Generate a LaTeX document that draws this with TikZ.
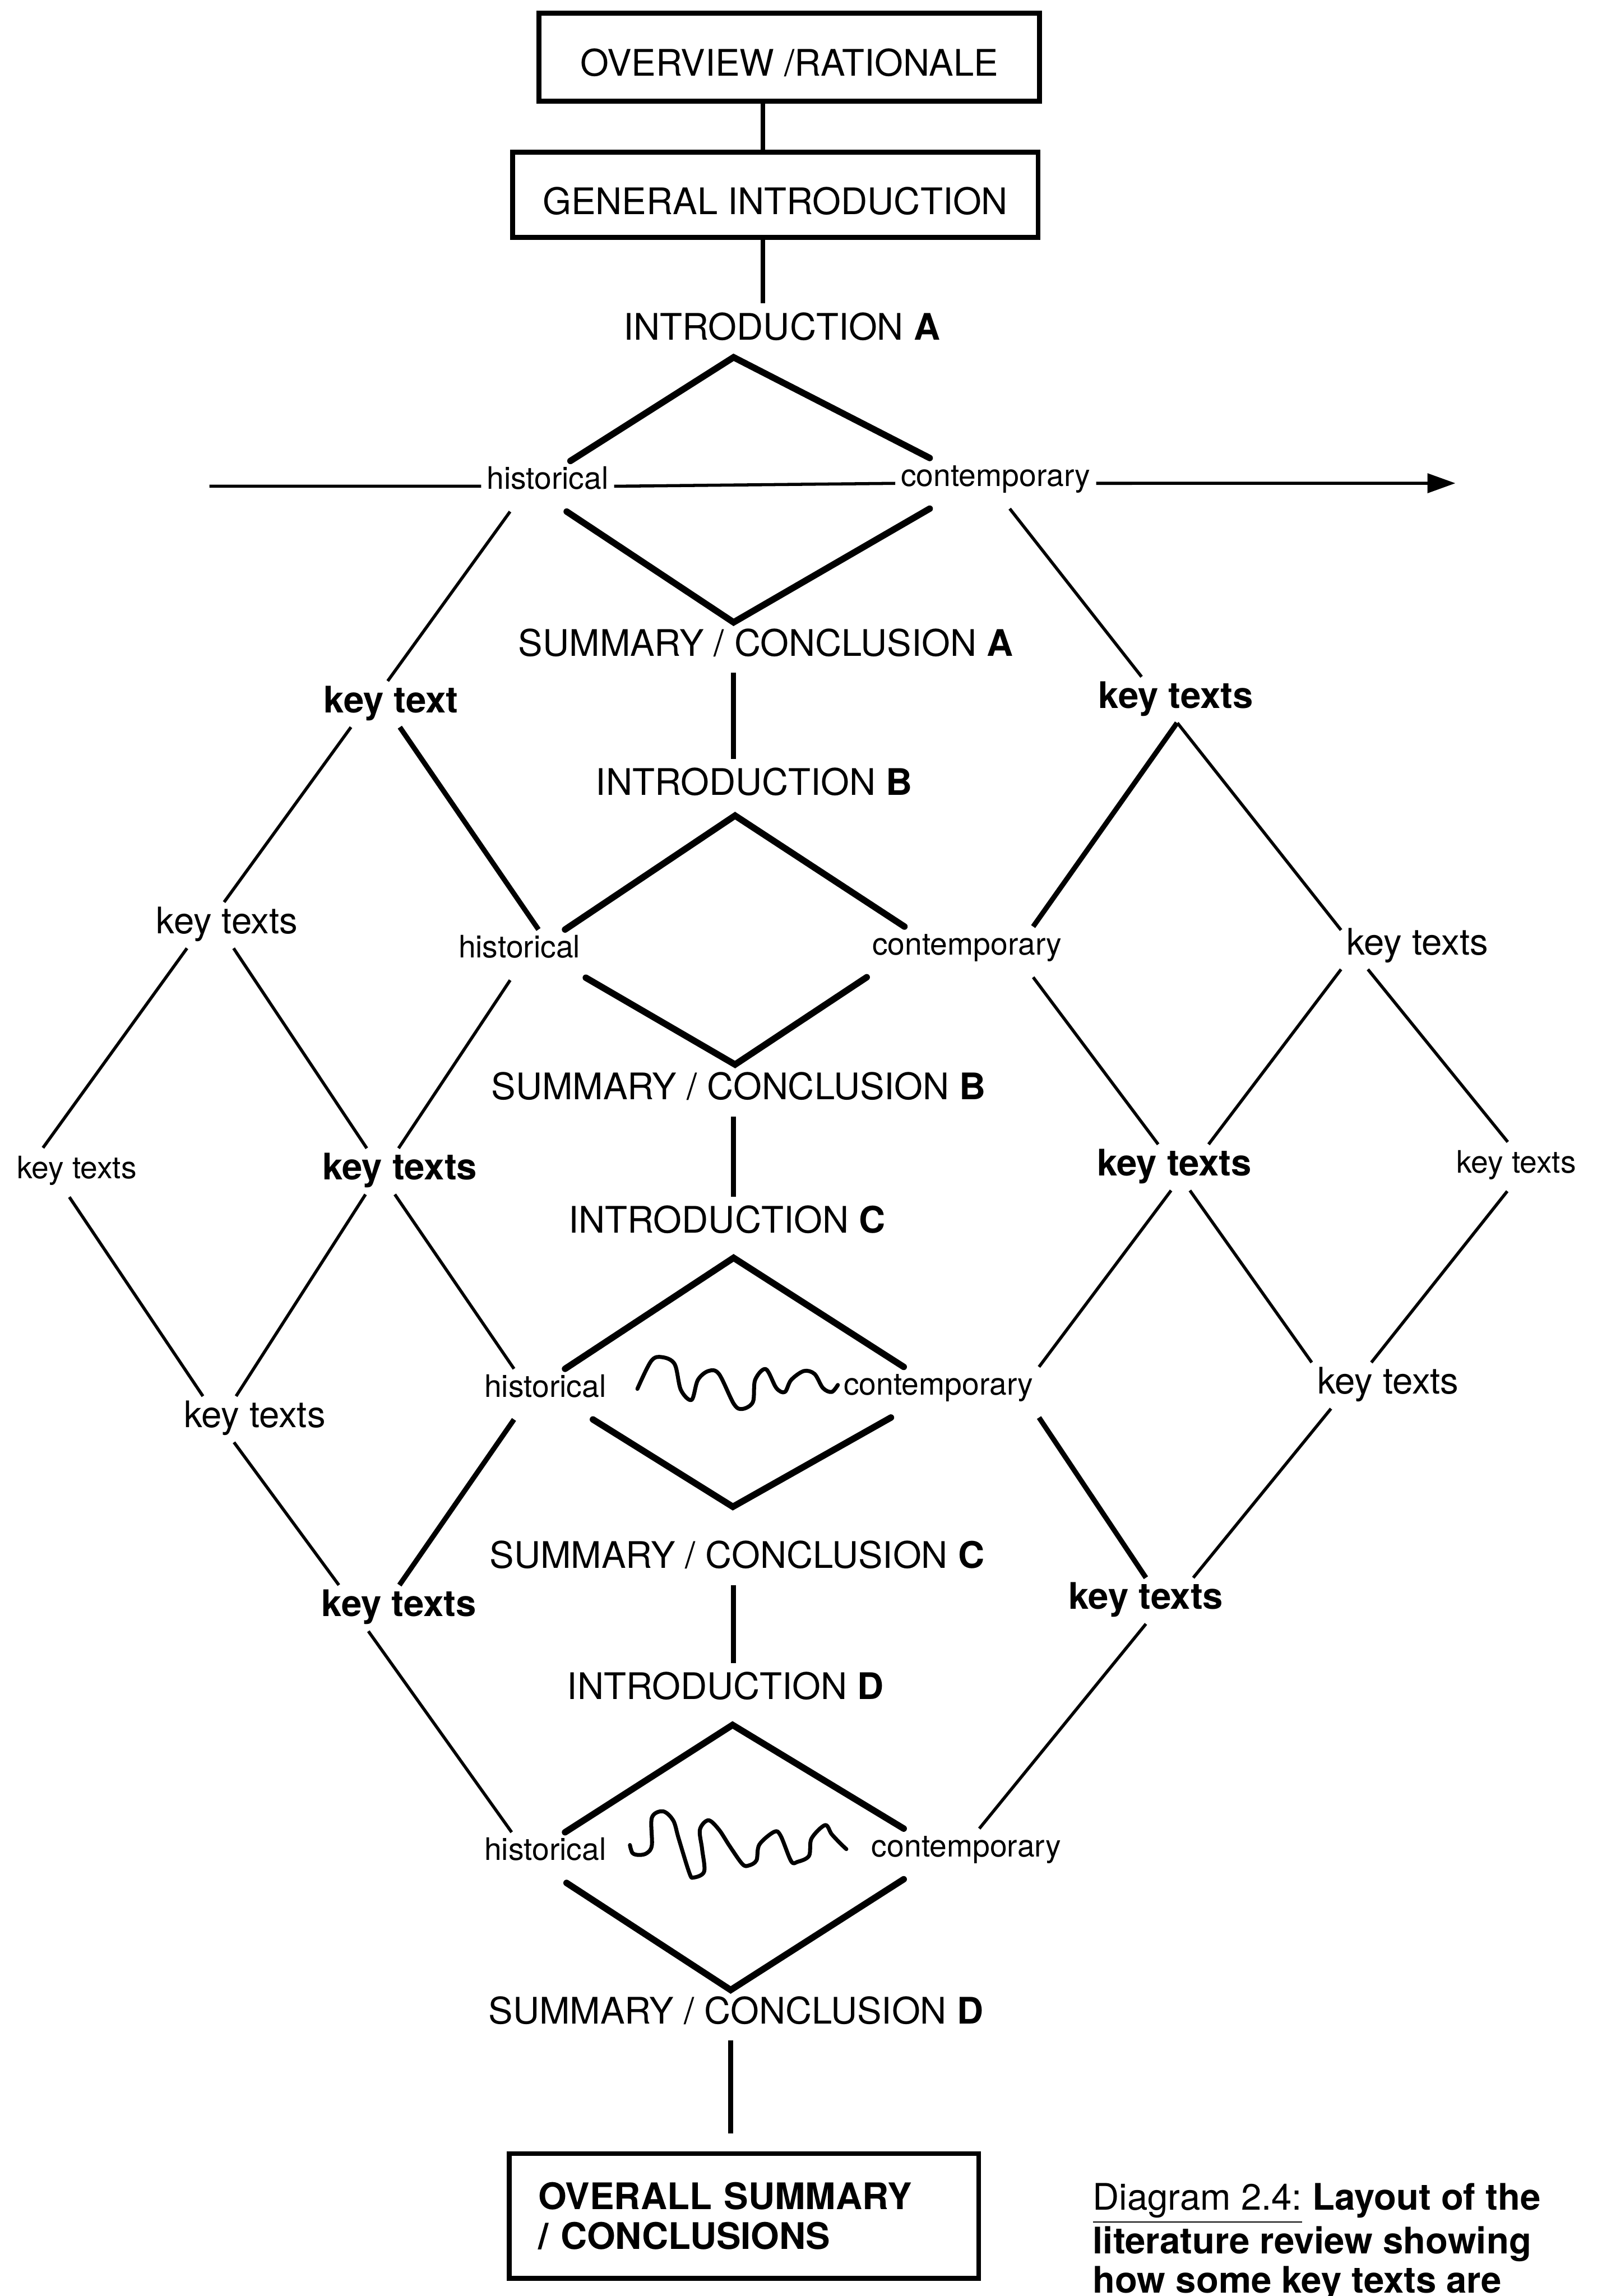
\documentclass[tikz,border=0pt]{standalone}
\usepackage{fontspec}
\setmainfont{TeX Gyre Heros}
\usepackage{tikz}
\usetikzlibrary{arrows.meta}
\tikzset{
Boite/.style={
 draw=black,
 line width=1.75pt,
 font=\fontsize{13}{15}\selectfont
 },
Titre/.style={
 anchor=base,
 font=\fontsize{13}{15}\selectfont,
 inner xsep=2pt,
 inner ysep=3.5pt,
 text height=9.4pt,
 text depth=2.5pt,
 outer sep=0pt
 },
Cote/.style={
 anchor=base,
 font=\fontsize{11}{13}\selectfont,
 inner sep=0pt,
 inner xsep=2pt,
 text height=10pt,
 text depth=8pt,
 outer sep=0pt
 },
Cle/.style={
 anchor=base,
 font=\fontsize{13}{15}\selectfont,
 inner sep=0pt,
 inner xsep=2pt,
 text height=11.2pt,
 text depth=5.2pt,
 outer sep=0pt
 },
CleGras/.style={Cle, font=\fontsize{13}{15}\selectfont\bfseries},
ClePetit/.style={Cle, font=\fontsize{11}{13}\selectfont, text height=11pt, text depth=6.5pt},
Chevron/.style={draw=black, line width=2.3pt, line cap=round},
Lien/.style={draw=black, line width=1.1pt},
LienFort/.style={draw=black, line width=1.8pt},
Axe/.style={draw=black, line width=1.7pt},
Vague/.style={draw=black, line width=1.4pt, line cap=round, line join=round}
}

\begin{document}
\begin{tikzpicture}[x=0.18282mm,y=-0.18282mm]
\useasboundingbox (0,0) rectangle (1094,1568);
\node[Boite, minimum width=62.52mm, minimum height=10.97mm, text height=13.3pt, text depth=0pt] (vue) at (539,39) {OVERVIEW /RATIONALE};
\node[Boite, minimum width=65.63mm, minimum height=10.6mm, text height=14.1pt, text depth=0pt] (gen) at (529.5,133) {GENERAL INTRODUCTION};
\node[Titre] (iA) at (534,232) {INTRODUCTION \textbf{A}};
\node[Titre] (rA) at (523,448) {SUMMARY / CONCLUSION \textbf{A}};
\node[Titre] (iB) at (515,543) {INTRODUCTION \textbf{B}};
\node[Titre] (rB) at (504.5,751) {SUMMARY / CONCLUSION \textbf{B}};
\node[Titre] (iC) at (496.5,842) {INTRODUCTION \textbf{C}};
\node[Titre] (rC) at (503.4,1071) {SUMMARY / CONCLUSION \textbf{C}};
\node[Titre] (iD) at (495.5,1160.6) {INTRODUCTION \textbf{D}};
\node[Titre] (rD) at (502.6,1382) {SUMMARY / CONCLUSION \textbf{D}};
\node[Boite, minimum width=58.61mm, minimum height=15.59mm, text width=51.37mm, align=left,
 font=\fontsize{13}{14}\selectfont\bfseries] (bilan) at (508.1,1513.4) {OVERALL SUMMARY\\/ CONCLUSIONS};
\node[anchor=north west, inner sep=0pt, align=left, font=\fontsize{13}{14}\selectfont] (legende) at (746,1490.7)
 {\underline{Diagram 2.4:} \textbf{Layout of the}\\\textbf{literature review showing}\\\textbf{how some key texts are}};

\node[Cote] (hA) at (374,334) {historical};
\node[Cote] (cA) at (680,332) {contemporary};
\node[Cote] (hB) at (354.7,654) {historical};
\node[Cote] (cB) at (660.5,652) {contemporary};
\node[Cote] (hC) at (372.4,954) {historical};
\node[Cote] (cC) at (641,952.7) {contemporary};
\node[Cote] (hD) at (372.4,1270.5) {historical};
\node[Cote] (cD) at (660,1268) {contemporary};

\node[CleGras] (k1) at (267,486.6) {key text};
\node[CleGras] (k2) at (803,483.7) {key texts};
\node[Cle] (k3) at (155,637.6) {key texts};
\node[Cle] (k4) at (968,652) {key texts};
\node[ClePetit] (k5) at (52.5,805) {key texts};
\node[CleGras] (k6) at (273,805.7) {key texts};
\node[CleGras] (k7) at (802,803) {key texts};
\node[ClePetit] (k8) at (1035.5,801) {key texts};
\node[Cle] (k9) at (174,975) {key texts};
\node[Cle] (k10) at (948,952) {key texts};
\node[CleGras] (k11) at (272.5,1104) {key texts};
\node[CleGras] (k12) at (782.6,1099) {key texts};

\coordinate (haut) at (521,0);
\coordinate (axe) at (501,0);
\coordinate (axeD) at (499,0);
\draw[Axe] (vue.south -| haut) -- (gen.north -| haut);
\draw[Axe] (gen.south -| haut) -- (iA.north -| haut);
\draw[Axe] (rA.south -| axe) -- (iB.north -| axe);
\draw[Axe] (rB.south -| axe) -- (iC.north -| axe);
\draw[Axe] (rC.south -| axe) -- (iD.north -| axe);
\draw[Axe, shorten >=2.2mm] (rD.south -| axeD) -- (bilan.north -| axeD);

\coordinate (tdeb) at (143,332);
\coordinate (tfin) at (994,330);
\draw[Lien] (tdeb) -- (hA.west);
\draw[Lien] (hA.east) -- (cA.west);
\draw[Lien, -{Triangle[length=3.5mm,width=2.4mm]}] (cA.east) -- (tfin);

\coordinate (pA) at (501,244);
\coordinate (vA) at (501,425);
\coordinate (pB) at (502,557);
\coordinate (vB) at (502,727);
\coordinate (pC) at (501,859);
\coordinate (vC) at (500.5,1029);
\coordinate (pD) at (500.3,1178);
\coordinate (vD) at (499,1359);
\draw[Chevron] (hA.48.5) -- (pA) -- (cA.159.5);
\draw[Chevron] (hA.-53.4) -- (vA) -- (cA.201.1);
\draw[Chevron] (hB.29.8) -- (pB) -- (cB.158.3);
\draw[Chevron] (hB.-19.2) -- (vB) -- (cB.south west);
\draw[Chevron] (hC.52.2) -- (pC) -- (cC.144.6);
\draw[Chevron] (hC.-28.9) -- (vC) -- (cC.208);
\draw[Chevron] (hD.52.3) -- (pD) -- (cD.158.7);
\draw[Chevron] (hD.-50.8) -- (vD) -- (cD.202.1);

\draw[Vague] plot[smooth, tension=0.55] coordinates {(435.3,948.5) (444.7,929.5) (452,926.8) (460.7,931.5) (465,949.2) (472.3,956) (476.6,942.4) (483.8,936.3) (491,938.3) (501.2,958.8) (507,962.2) (514.2,957.4) (515.7,942.4) (523,935) (530.2,947.9) (536,950.6) (540.3,942.4) (549,936.3) (556.3,938.3) (562,947.9) (568,950.6) (572.2,945.8)};
\draw[Vague] plot[smooth, tension=0.55] coordinates {(430.2,1260) (432,1265.5) (436.6,1266.8) (441.8,1265.5) (445.2,1260) (445.2,1241.3) (452.8,1237) (459.8,1243.3) (463.5,1255.6) (470.8,1279.1) (473.6,1282.2) (480.9,1278.1) (479.5,1262.8) (478,1249.5) (483.8,1243.1) (491,1249.5) (498.3,1260.7) (507,1273) (511.3,1274) (516.6,1270.5) (518.6,1259.7) (528.7,1251) (533.1,1253.6) (540.3,1271) (544.6,1271.5) (552.5,1267.4) (554.2,1255.6) (563.5,1246.4) (567.9,1252.5) (573.7,1258.7) (578,1262.8)};

\draw[Lien] (hA.214) -- (k1.98);
\draw[Lien] (k1.210) -- (k3.97);
\draw[LienFort] (k1.-69) -- (hB.53.6);
\draw[Lien] (k3.210) -- (k5.144);
\draw[Lien] (k3.-74.5) -- (k6.145);
\draw[Lien] (hB.250) -- (k6.93);
\draw[Lien] (k5.253) -- (k9.156);
\draw[Lien] (k6.214) -- (k9.129);
\draw[Lien] (k6.258) -- (hC.141);
\draw[LienFort] (hC.219) -- (k11.89);
\draw[Lien] (k9.228.6) -- (k11.159);
\draw[Lien] (k11.217) -- (hD.143.4);

\draw[Lien] (cA.-61.8) -- (k2.146.7);
\draw[LienFort] (k2.-87) -- (cB.21.4);
\draw[Lien] (k2.-86) -- (k4.168.5);
\draw[Lien] (cB.-21) -- (k7.125.8);
\draw[Lien] (k4.south west) -- (k7.34);
\draw[Lien] (k4.205.4) -- (k8.109.2);
\draw[Lien] (k7.262) -- (cC.north east);
\draw[Lien] (k7.-56) -- (k10.north west);
\draw[Lien] (k8.250) -- (k10.126);
\draw[LienFort] (cC.south east) -- (k12.north);
\draw[Lien] (k10.202) -- (k12.26);
\draw[Lien] (k12.south) -- (cD.63);
\end{tikzpicture}
\end{document}
